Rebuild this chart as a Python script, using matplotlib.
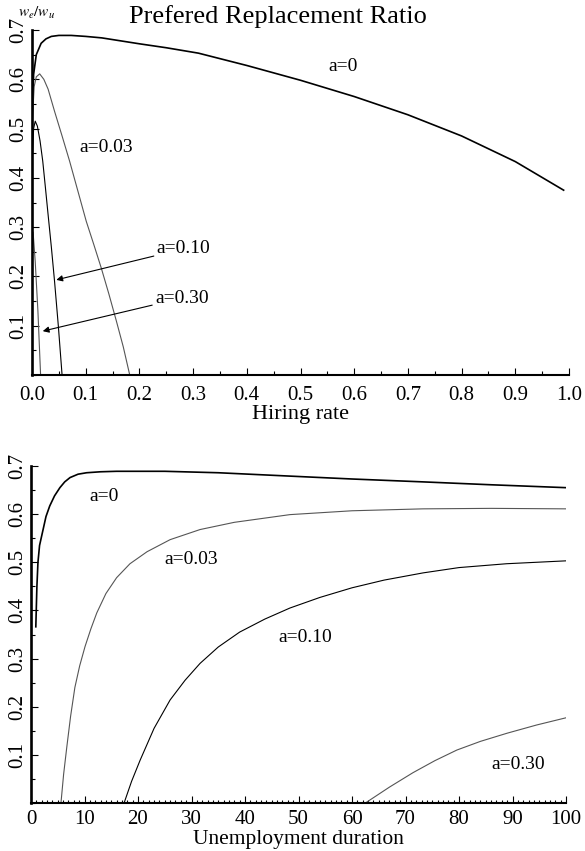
import numpy as np
import matplotlib
matplotlib.use("Agg")
import matplotlib.pyplot as plt
from matplotlib.ticker import MultipleLocator, FormatStrFormatter

plt.rcParams['font.family'] = ['Liberation Serif', 'DejaVu Serif']
plt.rcParams['mathtext.fontset'] = 'stix'

# top panel: replacement ratio vs hiring rate
hire_a0 = [0.0, 0.003, 0.008, 0.017, 0.026, 0.036, 0.05, 0.073, 0.10, 0.13, 0.2, 0.25,
           0.31, 0.4, 0.5, 0.6, 0.7, 0.8, 0.9, 0.99]
ratio_a0 = [0.52, 0.61, 0.65, 0.673, 0.682, 0.687, 0.689, 0.689, 0.687, 0.684, 0.672,
            0.664, 0.653, 0.628, 0.598, 0.565, 0.528, 0.485, 0.433, 0.375]
hire_a03 = [0.0, 0.004, 0.008, 0.0143, 0.022, 0.03, 0.042, 0.056, 0.070, 0.085, 0.101,
            0.115, 0.129, 0.143, 0.157, 0.170, 0.182]
ratio_a03 = [0.50, 0.585, 0.605, 0.611, 0.600, 0.58, 0.535, 0.485, 0.434, 0.375, 0.312,
             0.265, 0.217, 0.165, 0.110, 0.057, 0.0]
hire_a10 = [0.0, 0.003, 0.006, 0.010, 0.015, 0.020, 0.025, 0.030, 0.036, 0.042, 0.049, 0.056]
ratio_a10 = [0.42, 0.50, 0.515, 0.505, 0.475, 0.434, 0.38, 0.325, 0.26, 0.190, 0.10, 0.0]
hire_a30 = [0.0, 0.002, 0.006, 0.011, 0.016]
ratio_a30 = [0.22, 0.29, 0.23, 0.13, 0.0]

# bottom panel: replacement ratio vs unemployment duration
dur_a0 = [0.9, 1.1, 1.3, 1.6, 2.2, 2.8, 3.5, 4.4, 5.4, 6.3, 7.3, 8.8, 10.4, 13, 16, 25,
          35, 48.4, 60, 73.3, 86, 100]
rat_a0 = [0.366, 0.449, 0.50, 0.535, 0.565, 0.595, 0.617, 0.638, 0.655, 0.667, 0.676,
          0.683, 0.686, 0.688, 0.689, 0.689, 0.686, 0.679, 0.673, 0.667, 0.661, 0.655]
dur_a03 = [5.6, 6.1, 6.7, 7.4, 8.2, 9.1, 10.1, 11.2, 12.3, 14, 16, 18.5, 21.7, 26, 31.6,
           38, 48.4, 60, 73.3, 86, 100]
rat_a03 = [0.0, 0.06, 0.117, 0.18, 0.24, 0.285, 0.325, 0.362, 0.395, 0.435, 0.468, 0.497,
           0.522, 0.547, 0.568, 0.583, 0.599, 0.607, 0.611, 0.612, 0.611]
dur_a10 = [17.4, 18.8, 20.4, 23, 26, 28.8, 31.6, 35, 39, 43.7, 48.4, 54, 60, 66, 73.3,
           80, 88.9, 100]
rat_a10 = [0.0, 0.045, 0.089, 0.155, 0.214, 0.255, 0.29, 0.324, 0.355, 0.382, 0.405,
           0.427, 0.447, 0.463, 0.478, 0.489, 0.497, 0.503]
dur_a30 = [62.5, 67, 71.4, 75.5, 79.6, 84, 89, 94.5, 100]
rat_a30 = [0.0, 0.033, 0.063, 0.088, 0.11, 0.128, 0.145, 0.162, 0.177]

W, H = 585, 851
fig = plt.figure(figsize=(W / 100, H / 100), dpi=100)
ax1 = fig.add_axes([32 / W, 1 - 375 / H, 537 / W, 345 / H])
ax2 = fig.add_axes([31 / W, 1 - 803 / H, 535 / W, 337 / H])

thick = dict(color='black', lw=1.2)
thin_k = dict(color='black', lw=0.8)
thin_g = dict(color='#555555', lw=0.8)

ax1.plot(hire_a0, ratio_a0, **thick)
ax1.plot(hire_a03, ratio_a03, **thin_g)
ax1.plot(hire_a10, ratio_a10, **thin_k)
ax1.plot(hire_a30, ratio_a30, **thin_g)

ax2.plot(dur_a0, rat_a0, **thick)
ax2.plot(dur_a03, rat_a03, **thin_g)
ax2.plot(dur_a10, rat_a10, **thin_k)
ax2.plot(dur_a30, rat_a30, **thin_g)

for ax in (ax1, ax2):
    ax.set_ylim(0, 0.7)
    for s in ('top', 'right'):
        ax.spines[s].set_visible(False)
    ax.spines['left'].set_linewidth(1.9)
    ax.spines['bottom'].set_linewidth(1.5)
    ax.yaxis.set_minor_locator(MultipleLocator(0.05))
    ax.tick_params(which='both', direction='in', width=0.8)
    ax.tick_params(which='major', length=5)
    ax.tick_params(which='minor', length=3)
    ax.tick_params(axis='y', labelsize=15, pad=3)
    ax.set_yticks([0.1, 0.2, 0.3, 0.4, 0.5, 0.6, 0.7])
    ax.set_yticklabels(['0.1', '0.2', '0.3', '0.4', '0.5', '0.6', '0.7'],
                       rotation=90, va='center')

ax1.set_xlim(0, 1.0)
ax1.xaxis.set_major_locator(MultipleLocator(0.1))
ax1.xaxis.set_minor_locator(MultipleLocator(0.05))
ax1.xaxis.set_major_formatter(FormatStrFormatter('%.1f'))
ax1.tick_params(axis='x', labelsize=15, pad=8)
ax1.set_xlabel('Hiring rate', fontsize=16, labelpad=0)

ax2.set_xlim(0, 100)
ax2.xaxis.set_major_locator(MultipleLocator(10))
ax2.xaxis.set_minor_locator(MultipleLocator(1))
ax2.tick_params(axis='x', labelsize=15, pad=5)
ax2.tick_params(axis='x', which='minor', length=2.5)
ax2.set_xlabel('Unemployment duration', fontsize=15.5, labelpad=1)

# labels, top panel
ax1.text(0.579, 0.625, 'a=0', fontsize=14, ha='center', va='center')
ax1.text(0.138, 0.462, 'a=0.03', fontsize=14, ha='center', va='center')
ax1.annotate('a=0.10', xy=(0.0453, 0.193), xytext=(0.232, 0.256), fontsize=14,
             va='center', ha='left',
             arrowprops=dict(arrowstyle='-|>', color='black', lw=0.8,
                             mutation_scale=9, shrinkA=0, shrinkB=0))
ax1.annotate('a=0.30', xy=(0.020, 0.089), xytext=(0.229, 0.156), fontsize=14,
             va='center', ha='left',
             arrowprops=dict(arrowstyle='-|>', color='black', lw=0.8,
                             mutation_scale=9, shrinkA=0, shrinkB=0))

# labels, bottom panel
ax2.text(13.6, 0.636, 'a=0', fontsize=14, ha='center', va='center')
ax2.text(29.9, 0.505, 'a=0.03', fontsize=14, ha='center', va='center')
ax2.text(51.2, 0.343, 'a=0.10', fontsize=14, ha='center', va='center')
ax2.text(91, 0.079, 'a=0.30', fontsize=14, ha='center', va='center')

fig.text(278 / W, 1 - 17 / H, 'Prefered Replacement Ratio', fontsize=19,
         ha='center', va='center')
fig.text(37 / W, 1 - 13 / H, r'$w_e/w_u$', fontsize=11, ha='center', va='center')

fig.savefig('out.png', dpi=100)
